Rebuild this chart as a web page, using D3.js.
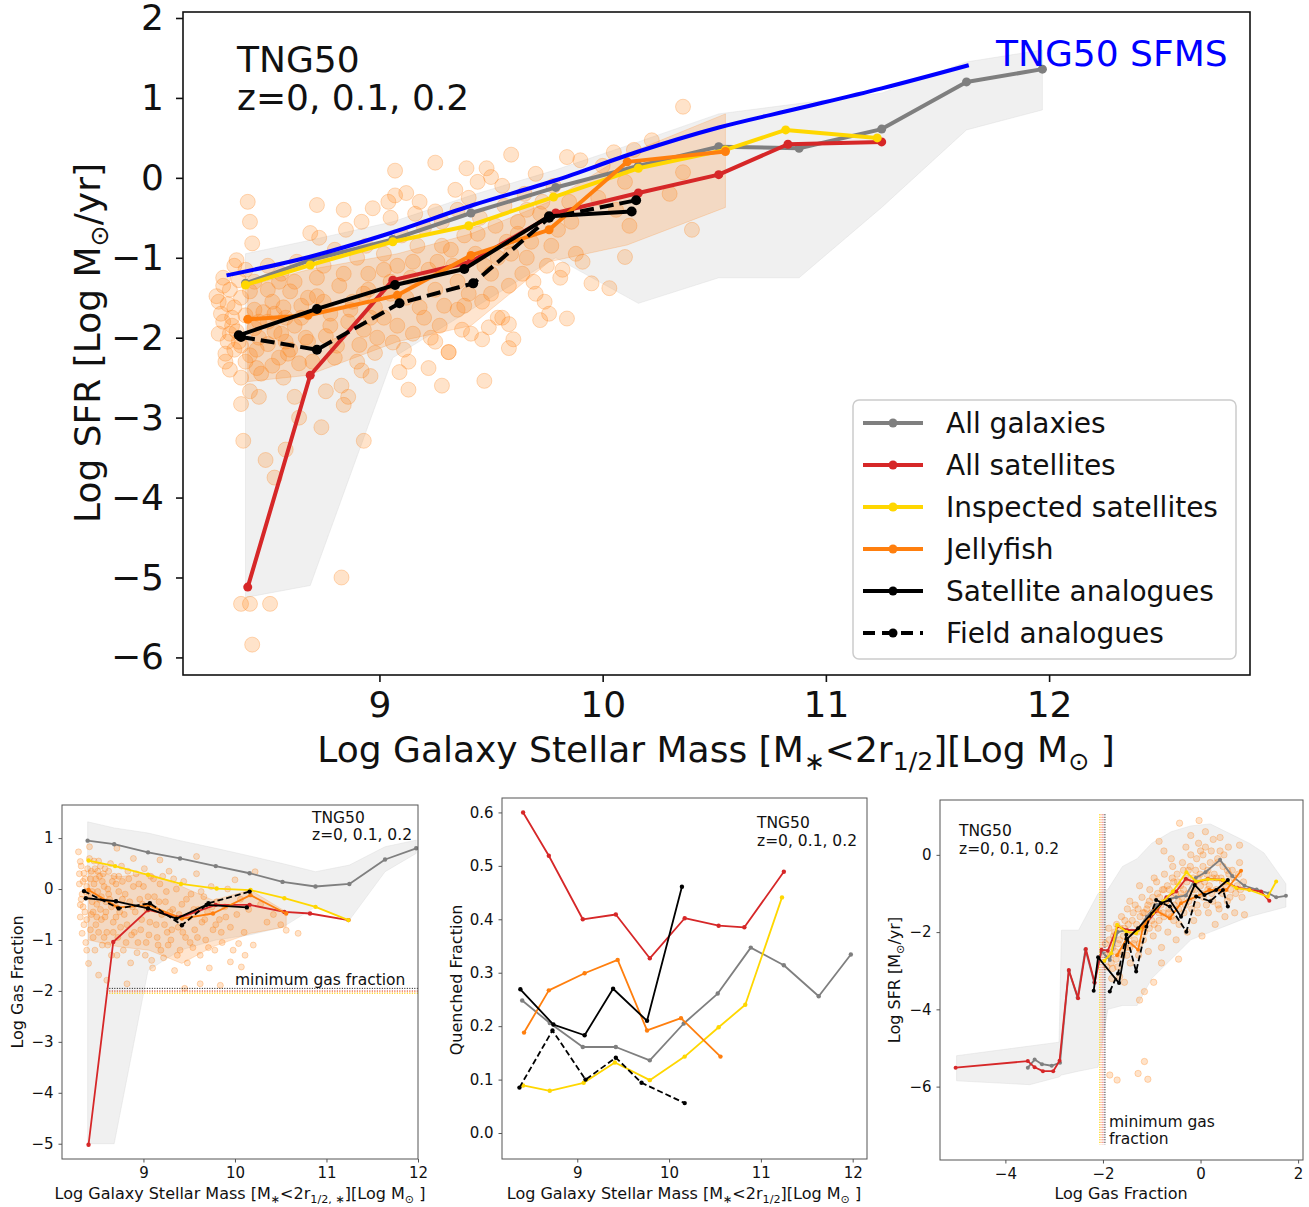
<!DOCTYPE html>
<html>
<head>
<meta charset="utf-8">
<script src="https://cdn.jsdelivr.net/npm/d3@7"></script>
<style>
  body { margin: 0; background: #fff; }
  svg { font-family: "DejaVu Sans", sans-serif; }
</style>
</head>
<body>
<svg id="fig" width="1309" height="1207"></svg>
<script>
// ---------- main panel: Log SFR vs Log stellar mass ----------
const mAll = [8.40, 8.69, 9.06, 9.41, 9.79, 10.16, 10.52, 10.88, 11.25, 11.63, 11.97];
const sfrAll = [-1.32, -1.03, -0.77, -0.44, -0.12, 0.15, 0.39, 0.37, 0.61, 1.20, 1.36];
const sfrAllHi = [-0.95, -0.78, -0.55, -0.22, 0.10, 0.45, 0.80, 0.93, 1.06, 1.45, 1.60];
const sfrAllLo = [-5.25, -5.10, -2.25, -1.65, -1.00, -1.57, -1.25, -1.25, -0.37, 0.60, 0.85];
const mSat = [8.41, 8.69, 9.06, 9.41, 9.79, 10.16, 10.52, 10.83, 11.25];
const sfrSat = [-5.12, -2.47, -1.28, -1.05, -0.44, -0.19, 0.04, 0.42, 0.45];
const mInsp = [8.40, 8.69, 9.06, 9.40, 9.78, 10.16, 10.55, 10.82, 11.23];
const sfrInsp = [-1.34, -1.09, -0.80, -0.60, -0.24, 0.12, 0.35, 0.60, 0.50];
const mJelly = [8.41, 8.68, 9.08, 9.41, 9.76, 10.11, 10.55];
const sfrJelly = [-1.77, -1.72, -1.47, -0.97, -0.65, 0.20, 0.33];
const sfrJellyHi = [-1.35, -1.15, -0.95, -0.70, -0.30, 0.30, 0.80];
const sfrJellyLo = [-2.55, -2.47, -2.05, -1.85, -1.05, -0.84, -0.37];
const mSatAn = [8.37, 8.72, 9.07, 9.38, 9.76, 10.13];
const sfrSatAn = [-1.97, -1.64, -1.34, -1.14, -0.48, -0.42];
const mField = [8.38, 8.72, 9.09, 9.42, 9.76, 10.15];
const sfrField = [-1.99, -2.15, -1.57, -1.32, -0.50, -0.28];
const mSfms = [8.315, 8.685, 9.05, 9.42, 9.79, 10.15, 10.52, 10.88, 11.25, 11.64];
const sfrSfms = [-1.22, -0.99, -0.69, -0.34, -0.03, 0.32, 0.63, 0.87, 1.12, 1.41];
// jellyfish galaxies (mass, SFR)
const jellyPts = [
  [8.41,-0.30],[8.42,-0.55],[8.43,-0.82],[8.36,-1.03],[8.30,-1.25],[8.33,-1.40],[8.38,-1.50],[8.28,-1.55],
  [8.35,-1.62],[8.40,-1.72],[8.30,-1.80],[8.44,-1.88],[8.33,-1.95],[8.37,-2.05],[8.35,-2.15],[8.42,-2.22],
  [8.31,-2.30],[8.45,-2.38],[8.38,-2.50],[8.42,-2.67],[8.38,-2.83],[8.39,-3.29],[8.38,-5.33],[8.42,-5.33],
  [8.43,-5.84],[8.27,-1.48],[8.29,-1.70],[8.32,-2.05],[8.44,-1.30],[8.46,-2.00],[8.40,-1.15],[8.34,-1.85],
  [8.50,-1.10],[8.55,-1.30],[8.60,-1.42],[8.52,-1.55],[8.65,-1.60],[8.48,-1.68],[8.58,-1.75],[8.62,-1.85],
  [8.53,-1.92],[8.67,-2.00],[8.50,-2.08],[8.60,-2.15],[8.55,-2.25],[8.64,-2.32],[8.47,-2.45],[8.46,-2.74],
  [8.62,-2.74],[8.64,-3.00],[8.58,-3.40],[8.49,-3.53],[8.53,-3.75],[8.51,-5.33],[8.56,-1.20],[8.68,-1.50],
  [8.69,-0.69],[8.58,-2.05],[8.50,-1.80],[8.57,-1.62],
  [8.72,-0.34],[8.84,-0.40],[8.97,-0.38],[8.92,-0.55],[8.80,-0.90],[8.90,-1.00],[8.75,-1.10],[8.95,-1.20],
  [8.82,-1.35],[8.72,-1.48],[8.88,-1.55],[8.98,-1.62],[8.78,-1.70],[8.86,-1.80],[8.93,-1.90],[8.76,-1.98],
  [8.91,-2.09],[8.98,-2.19],[8.92,-2.41],[8.96,-2.48],[8.83,-2.60],[8.76,-2.67],[8.86,-2.74],[8.84,-2.84],
  [8.74,-3.12],[8.93,-3.29],[8.83,-5.00],[8.80,-2.25],[8.70,-2.30],[8.95,-1.40],
  [9.07,0.09],[9.12,-0.19],[9.07,-0.22],[9.18,-0.30],[9.25,-0.42],[9.05,-0.50],[9.20,-0.62],[9.10,-0.72],
  [9.28,-0.85],[9.02,-0.95],[9.15,-1.05],[9.22,-1.15],[9.05,-1.30],[9.25,-1.40],[9.12,-1.50],[9.18,-1.62],
  [9.02,-1.75],[9.27,-1.85],[9.06,-2.06],[9.31,-2.18],[9.22,-2.38],[9.09,-2.43],[9.13,-2.65],[9.28,-2.60],
  [9.15,-1.95],[9.08,-1.10],[9.25,-2.05],[9.13,-2.30],
  [9.59,0.29],[9.25,0.19],[9.39,0.12],[9.48,0.12],[9.50,0.01],[9.55,-0.10],[9.40,-0.25],[9.35,-0.40],
  [9.45,-0.50],[9.52,-0.60],[9.38,-0.72],[9.57,-0.80],[9.43,-0.95],[9.33,-1.10],[9.50,-1.20],[9.58,-1.35],
  [9.40,-1.45],[9.46,-1.55],[9.35,-1.65],[9.55,-1.75],[9.58,-1.83],[9.49,-1.87],[9.46,-2.02],[9.60,-2.02],
  [9.58,-2.13],[9.31,-2.18],[9.47,-2.54],[9.53,-1.00],[9.37,-1.90],
  [9.84,0.26],[9.90,0.22],[9.70,0.05],[9.78,-0.10],[9.65,-0.20],[9.85,-0.30],[9.72,-0.45],[9.62,-0.55],
  [9.80,-0.65],[9.68,-0.80],[9.88,-0.95],[9.75,-1.10],[9.64,-1.20],[9.95,-1.32],[9.70,-1.45],[9.76,-1.70],
  [9.84,-1.76],[9.72,-1.78],[9.82,-1.15],
  [10.05,0.32],[10.14,0.35],[10.00,0.15],[10.10,-0.05],[9.98,-0.25],[10.06,-0.40],[10.12,-0.60],[10.10,-0.99],
  [10.03,-1.38],[10.22,0.47],[10.36,0.89],[10.36,0.07],[10.30,-0.20],[10.40,-0.65],
  [8.30,-1.35],[8.32,-1.58],[8.34,-1.75],[8.36,-1.92],[8.38,-2.10],[8.40,-2.30],[8.42,-1.42],[8.44,-1.65],
  [8.46,-1.80],[8.28,-1.95],[8.31,-2.20],[8.33,-2.40],[8.35,-1.10],[8.37,-1.28],[8.45,-2.15],
  [8.50,-1.40],[8.53,-1.70],[8.56,-1.95],[8.59,-2.20],[8.62,-1.30],[8.65,-1.75],[8.68,-2.05],[8.52,-2.35],
  [8.57,-2.50],[8.63,-1.05],
  [8.72,-1.25],[8.75,-1.55],[8.78,-1.85],[8.81,-2.10],[8.84,-1.20],[8.87,-1.65],[8.90,-2.30],[8.93,-1.45],
  [8.96,-1.75],[8.99,-2.00],[8.73,-0.75],[8.85,-0.65],[8.94,-0.85],
  [9.02,-1.15],[9.05,-1.45],[9.08,-1.85],[9.11,-2.15],[9.14,-1.25],[9.17,-0.85],[9.20,-1.75],[9.23,-2.00],
  [9.26,-1.05],[9.29,-1.60],[9.04,-0.30],[9.16,-0.45],[9.28,-0.55],
  [9.32,-0.90],[9.35,-1.30],[9.38,-1.60],[9.41,-1.95],[9.44,-0.70],[9.47,-1.10],[9.50,-1.45],[9.53,-1.75],
  [9.56,-0.35],[9.59,-0.95],[9.34,-0.15],[9.44,-0.05],
  [9.62,-0.70],[9.66,-1.00],[9.69,-1.30],[9.73,-0.30],[9.77,-0.85],[9.81,-1.25],[9.86,-0.55],[9.91,-1.05],
  [9.66,-0.40],[9.74,-1.55]
];

// ---------- lower left: Log gas fraction vs mass ----------
const gmAll = [8.39, 8.68, 9.05, 9.40, 9.79, 10.16, 10.52, 10.88, 11.25, 11.64, 11.98];
const gasAll = [0.95, 0.88, 0.72, 0.60, 0.45, 0.31, 0.14, 0.05, 0.10, 0.58, 0.80];
const gasAllHi = [1.32, 1.20, 1.10, 0.95, 0.80, 0.65, 0.50, 0.34, 0.47, 0.83, 0.96];
const gasAllLo = [-5.00, -5.00, -1.60, -1.20, -1.00, -0.90, -0.75, -0.35, -0.61, 0.34, 0.70];
const gmSat = [8.40, 8.67, 9.05, 9.41, 9.79, 10.16, 10.54, 10.82, 11.24];
const gasSat = [-5.02, -1.04, -0.41, -0.55, -0.31, -0.31, -0.45, -0.48, -0.61];
const gmInsp = [8.40, 8.69, 9.05, 9.41, 9.80, 10.17, 10.54, 10.88, 11.24];
const gasInsp = [0.56, 0.45, 0.28, 0.10, 0.01, -0.02, -0.18, -0.35, -0.61];
const gmJelly = [8.40, 8.72, 9.06, 9.42, 9.76, 10.17, 10.56];
const gasJelly = [-0.02, -0.36, -0.32, -0.58, -0.48, -0.12, -0.48];
const gasJellyHi = [0.37, 0.24, 0.31, 0.05, -0.22, -0.02, -0.45];
const gasJellyLo = [-1.00, -1.13, -1.20, -1.46, -1.13, -0.87, -0.74];
const gmSatAn = [8.37, 8.70, 9.05, 9.36, 9.69, 10.13];
const gasSatAn = [-0.18, -0.24, -0.38, -0.58, -0.31, -0.36];
const gmField = [8.35, 8.73, 9.07, 9.42, 9.71, 10.16];
const gasField = [-0.04, -0.38, -0.28, -0.71, -0.28, -0.05];
const minGas = [-1.95, -2.00, -2.02, -2.05];   // black, red, orange, yellow
const gasPts = [
  [8.29,0.73],[8.41,0.83],[8.71,0.80],[8.89,0.60],[9.18,0.57],[9.58,0.64],[10.00,0.18],[10.22,0.34],
  [10.56,-0.81],[10.69,-0.87],[10.04,-1.07],[10.11,-1.30],[9.95,-1.43],[10.07,-1.53],[9.84,-1.89],[9.62,-1.86],
  [9.45,-1.95],[8.82,-1.86],[8.60,-1.79],[8.51,-1.69],[8.40,-1.46],[8.38,-1.20],[8.33,-0.87],[8.31,-0.31],
  [8.31,0.54],[8.35,0.31],[8.30,0.10],[8.33,-0.10],[8.36,-0.45],[8.38,-0.60],[8.42,0.20],[8.44,-0.25],
  [8.45,-0.95],[8.47,0.40],[8.48,-0.70],[8.50,-0.05],[8.52,0.25],[8.53,-0.40],[8.55,-1.10],[8.57,0.05],
  [8.58,-0.55],[8.60,-0.85],[8.62,0.35],[8.63,-0.20],[8.65,-1.30],[8.67,-0.65],[8.70,0.10],[8.72,-0.95],
  [8.74,-0.45],[8.76,0.45],[8.78,-1.20],[8.80,-0.10],[8.82,-0.70],[8.84,0.20],[8.86,-1.45],[8.88,-0.35],
  [8.90,-0.85],[8.92,0.30],[8.94,-1.05],[8.96,-0.20],[8.98,-0.60],[9.00,0.05],[9.02,-1.30],[9.04,-0.40],
  [9.06,-0.90],[9.08,0.25],[9.10,-1.55],[9.12,-0.15],[9.14,-0.70],[9.16,-1.10],[9.18,0.10],[9.20,-0.50],
  [9.22,-1.35],[9.24,-0.25],[9.26,-0.85],[9.28,0.35],[9.30,-1.00],[9.32,-0.40],[9.34,-1.60],[9.36,0.00],
  [9.38,-0.75],[9.40,-1.20],[9.42,-0.30],[9.44,0.15],[9.46,-0.95],[9.48,-1.45],[9.50,-0.55],[9.52,-0.10],
  [9.54,-1.15],[9.56,-0.80],[9.58,0.30],[9.60,-0.40],[9.62,-1.30],[9.64,-0.65],[9.66,-0.15],[9.68,-1.00],
  [9.70,-0.45],[9.72,-1.55],[9.74,0.05],[9.76,-0.80],[9.78,-1.20],[9.80,-0.25],[9.83,-0.60],[9.86,-1.05],
  [9.89,-0.35],[9.92,0.00],[9.95,-0.75],[9.98,-1.20],[10.02,-0.50],[10.06,-0.20],[10.10,-0.85],[10.15,-0.40],
  [10.20,-1.10],[10.28,-0.30],[10.35,-0.65],[10.42,-0.50],[10.50,-0.70],
  [8.32,-0.20],[8.34,0.15],[8.37,-0.05],[8.39,0.40],[8.43,-0.50],[8.46,0.10],[8.49,-0.30],[8.51,0.55],
  [8.54,-0.15],[8.56,0.30],[8.59,-0.25],[8.61,0.00],[8.66,0.15],[8.69,-0.30],[8.73,0.25],[8.77,-0.20],
  [8.30,0.30],[8.31,-0.55],[8.32,0.45],[8.34,-0.35],[8.35,-0.70],[8.36,0.20],[8.37,-1.05],[8.38,0.05],
  [8.40,-0.15],[8.41,0.60],[8.42,-0.80],[8.43,0.35],[8.44,-0.05],[8.45,-0.45],[8.46,0.55],[8.47,-1.20],
  [8.48,0.20],[8.49,-0.55],[8.50,0.35],[8.51,-0.85],[8.52,-0.20],[8.53,0.45],[8.54,-0.60],[8.55,0.15],
  [8.57,-0.95],[8.58,0.40],[8.59,-0.45],[8.61,-1.10],[8.62,-0.10],[8.64,0.50],[8.65,-0.35],[8.67,-0.85],
  [8.68,0.25],[8.70,-0.55],[8.71,-1.30],[8.73,-0.05],[8.75,-0.75],[8.77,0.15],[8.79,-0.50],[8.81,-1.05],
  [8.83,0.35],[8.85,-0.25],[8.87,-0.90],[8.89,0.05],[8.91,-0.45],[8.93,-1.25],[8.95,0.10],[8.97,-0.80],
  [8.99,-0.30],[9.01,0.40],[9.03,-1.05],[9.05,-0.15],[9.07,-0.65],[9.09,-1.40],[9.11,0.20],[9.13,-0.40],
  [9.15,-0.95],[9.17,-0.25],[9.19,-1.20],[9.21,0.25],[9.23,-0.70],[9.25,-0.05],[9.27,-1.10],[9.29,-0.45],
  [9.31,-0.80],[9.33,0.20],[9.37,-1.30],[9.39,-0.50],[9.43,-0.85],[9.47,-0.20],[9.51,-1.05],[9.55,-0.40],
  [9.59,-0.95],[9.63,-0.05],[9.67,-0.60],[9.71,-1.15],[9.75,-0.35],[9.79,-0.70],[9.85,-0.85],[9.90,-0.55]
];

// ---------- lower middle: quenched fraction vs mass ----------
const qmAll = [8.40, 8.70, 9.06, 9.42, 9.79, 10.16, 10.53, 10.89, 11.25, 11.63, 11.98];
const qAll = [0.248, 0.206, 0.161, 0.161, 0.136, 0.205, 0.261, 0.347, 0.314, 0.256, 0.334];
const qmSat = [8.41, 8.69, 9.06, 9.42, 9.79, 10.17, 10.54, 10.82, 11.25];
const qSat = [0.600, 0.519, 0.400, 0.409, 0.327, 0.402, 0.388, 0.385, 0.489];
const qmInsp = [8.41, 8.70, 9.07, 9.41, 9.79, 10.17, 10.54, 10.83, 11.23];
const qInsp = [0.089, 0.079, 0.094, 0.132, 0.099, 0.143, 0.198, 0.240, 0.441];
const qmJelly = [8.42, 8.69, 9.08, 9.44, 9.76, 10.13, 10.56];
const qJelly = [0.188, 0.267, 0.299, 0.324, 0.192, 0.215, 0.143];
const qmSatAn = [8.38, 8.74, 9.08, 9.39, 9.76, 10.14];
const qSatAn = [0.269, 0.203, 0.183, 0.270, 0.210, 0.461];
const qmField = [8.37, 8.73, 9.09, 9.42, 9.70, 10.17];
const qField = [0.085, 0.192, 0.100, 0.141, 0.094, 0.056];

// ---------- lower right: Log SFR vs Log gas fraction ----------
const fgAll = [-3.54, -3.40, -3.25, -3.05, -2.88, -2.70, -2.52, -2.36, -2.18, -2.03, -1.86, -1.70, -1.52, -1.30,
  -1.10, -0.90, -0.70, -0.50, -0.30, -0.10, 0.10, 0.40, 0.65, 0.90, 1.15, 1.40, 1.55, 1.75];
const fsAll = [-5.51, -5.30, -5.42, -5.46, -5.38, -3.00, -3.70, -2.45, -3.30, -2.50, -2.72, -2.00, -1.95, -1.95,
  -1.60, -1.30, -1.15, -1.10, -1.05, -0.60, -0.45, -0.13, -0.55, -0.80, -0.90, -1.00, -1.10, -1.06];
const fbX = [-5.0, -3.5, -2.9, -2.85, -2.5, -2.1, -1.9, -1.6, -1.3, -1.0, -0.6, -0.2, 0.2, 0.6, 1.0, 1.3, 1.75];
const fbHi = [-5.20, -4.95, -4.85, -1.95, -1.95, -1.00, -0.90, -0.30, -0.10, 0.30, 0.60, 0.75, 0.80, 0.55, 0.30, 0.05, -0.75];
const fbLo = [-5.85, -5.95, -5.75, -5.70, -5.60, -5.50, -4.00, -3.90, -3.90, -3.20, -2.70, -2.20, -2.00, -1.80, -1.60, -1.50, -1.35];
const fgSat = [-5.02, -3.54, -3.40, -3.23, -3.02, -2.89, -2.70, -2.51, -2.35, -2.17, -2.03, -1.90, -1.70, -1.50,
  -1.30, -1.10, -0.90, -0.70, -0.50, -0.30, -0.10, 0.15, 0.45, 0.75, 1.00, 1.24, 1.41];
const fsSat = [-5.51, -5.34, -5.50, -5.60, -5.60, -5.33, -2.98, -3.71, -2.44, -3.31, -2.46, -2.48, -1.85, -1.95,
  -1.95, -1.75, -1.45, -1.10, -0.95, -0.62, -0.72, -0.62, -0.65, -0.85, -0.90, -0.95, -1.19];
const fgInsp = [-1.97, -1.83, -1.71, -1.52, -1.32, -1.18, -0.98, -0.77, -0.57, -0.29, -0.09, 0.15, 0.46, 0.73, 1.00, 1.38, 1.55];
const fsInsp = [-2.74, -2.55, -1.81, -1.99, -2.03, -1.86, -1.51, -1.21, -0.95, -0.45, -0.69, -0.63, -0.65, -0.86, -0.91, -1.08, -0.69];
const fgJelly = [-1.71, -1.52, -1.28, -1.18, -0.94, -0.63, -0.40, -0.09, 0.18, 0.53, 0.83];
const fsJelly = [-2.60, -2.18, -2.46, -1.87, -1.42, -1.64, -1.25, -1.08, -0.91, -0.91, -0.41];
const fgSatAn = [-2.19, -2.10, -1.67, -1.51, -1.28, -0.81, -0.63, -0.40, -0.12, 0.08, 0.32, 0.56];
const fsSatAn = [-3.52, -2.65, -3.32, -2.18, -1.90, -1.25, -1.17, -1.60, -0.78, -1.04, -0.91, -0.65];
const fgField = [-1.86, -1.69, -1.52, -1.32, -1.11, -0.91, -0.63, -0.29, -0.09, 0.20, 0.46, 0.56];
const fsField = [-3.54, -3.07, -2.07, -3.02, -1.86, -1.17, -1.34, -1.99, -1.08, -1.20, -0.91, -1.34];
const minGasX = [-2.07, -2.04, -2.00, -1.96];   // yellow, orange, red, black
const fracPts = [
  [-1.95,-2.3],[-1.92,-2.9],[-1.88,-1.9],[-1.85,-2.6],[-1.82,-3.2],[-1.78,-2.1],[-1.75,-2.5],[-1.72,-1.8],
  [-1.70,-2.9],[-1.66,-2.2],[-1.62,-1.6],[-1.60,-2.6],[-1.56,-1.9],[-1.53,-2.4],[-1.50,-1.4],[-1.47,-2.1],
  [-1.44,-2.8],[-1.40,-1.7],[-1.37,-2.3],[-1.34,-1.3],[-1.30,-2.0],[-1.27,-2.6],[-1.24,-1.6],[-1.20,-1.1],
  [-1.17,-2.2],[-1.14,-1.8],[-1.10,-1.4],[-1.07,-2.5],[-1.04,-0.9],[-1.00,-1.7],[-0.97,-2.1],[-0.94,-1.3],
  [-0.90,-0.7],[-0.87,-1.9],[-0.84,-1.1],[-0.80,-2.4],[-0.77,-1.5],[-0.74,-0.5],[-0.70,-1.2],[-0.67,-2.0],
  [-0.64,-0.9],[-0.60,-1.6],[-0.57,-0.3],[-0.54,-1.3],[-0.50,-2.2],[-0.47,-0.7],[-0.44,-1.8],[-0.40,-1.0],
  [-0.37,-0.2],[-0.34,-1.5],[-0.30,-0.6],[-0.27,-2.0],[-0.24,-1.2],[-0.20,0.0],[-0.17,-0.9],[-0.14,-1.7],
  [-0.10,-0.4],[-0.07,-1.3],[-0.04,0.3],[0.00,-0.8],[0.03,-2.1],[0.06,-1.1],[0.10,0.2],[0.13,-0.5],
  [0.16,-1.5],[0.20,-0.2],[0.23,-1.0],[0.26,0.4],[0.30,-1.8],[0.33,-0.6],[0.36,-1.3],[0.40,0.1],
  [0.43,-0.9],[0.46,-0.3],[0.50,-1.6],[0.53,-0.7],[0.57,0.2],[0.60,-1.1],[0.65,-0.4],[0.70,-1.5],
  [0.75,-0.8],[0.80,-0.2],[0.85,-1.1],[0.90,-1.55],
  [-1.45,-1.2],[-1.25,-0.8],[-1.15,-1.5],[-1.05,-1.2],[-0.95,-0.6],[-0.85,-1.5],[-0.75,-0.9],[-0.65,-1.4],
  [-0.55,-0.7],[-0.45,-1.2],[-0.35,-0.9],[-0.25,-0.4],[-0.15,-1.1],[-0.05,-0.6],[0.05,-0.3],[0.15,-0.9],
  [0.25,-0.6],[0.35,-0.1],[0.45,-0.7],[0.55,-0.4],[-0.6,-0.1],[-0.3,0.2],[0.0,0.1],
  [-0.43,0.82],[-0.03,0.89],[-0.85,0.35],[-0.75,0.10],[-0.20,0.50],[0.10,0.60],[0.40,0.45],[0.80,0.25],
  [-1.86,-5.70],[-1.71,-5.83],[-1.28,-5.66],[-1.15,-5.35],[-1.08,-5.81],[-1.25,-3.76],[-1.15,-3.54],
  [-0.96,-3.30],[-1.80,-2.94],[-1.66,-3.15],[-1.56,-3.30],[-0.45,-2.7],[-0.80,-2.8],
  [-1.90,-2.6],[-1.87,-2.2],[-1.83,-2.8],[-1.80,-2.4],[-1.76,-2.0],[-1.73,-2.7],[-1.69,-2.3],[-1.65,-1.9],
  [-1.62,-2.5],[-1.58,-2.1],[-1.55,-1.7],[-1.51,-2.6],[-1.48,-1.8],[-1.45,-2.4],[-1.41,-2.0],[-1.38,-1.5],
  [-1.35,-2.2],[-1.31,-1.8],[-1.28,-1.4],[-1.25,-2.3],[-1.21,-1.9],[-1.18,-1.5],[-1.15,-2.0],[-1.11,-1.7],
  [-1.08,-1.3],[-1.05,-1.9],[-1.01,-1.5],[-0.98,-1.1],[-0.95,-1.8],[-0.91,-1.4],[-0.88,-1.0],[-0.85,-1.7],
  [-0.81,-1.3],[-0.78,-0.9],[-0.75,-1.6],[-0.71,-1.2],[-0.68,-0.8],[-0.65,-1.5],[-0.61,-1.1],[-0.58,-0.6],
  [-0.55,-1.7],[-0.51,-1.0],[-0.48,-0.5],[-0.45,-1.4],[-0.41,-0.8],[-0.38,-1.1],[-0.35,-0.4],[-0.31,-1.3],
  [-0.28,-0.7],[-0.25,-1.0],[-0.21,-0.3],[-0.18,-1.4],[-0.15,-0.6],[-0.11,-0.9],[-0.08,-0.1],[-0.05,-1.5],
  [-0.01,-0.5],[0.02,-1.0],[0.05,0.0],[0.08,-0.7],[0.12,-1.3],[0.15,-0.4],[0.18,-0.8],[0.22,0.1],
  [0.25,-1.2],[0.28,-0.5],[0.32,-0.9],[0.35,-0.2],[0.38,-1.4],[0.42,-0.6],[0.45,-1.0],[0.48,0.0],
  [0.52,-0.8],[0.55,-1.2],[0.58,-0.5],[0.62,-0.9],[0.68,-0.6],[0.72,-1.0],[0.78,-0.5],[0.82,-0.9],[0.88,-0.7]
];

const cGray = '#7f7f7f', cRed = '#d62728', cGold = '#ffd700', cOrange = '#ff7f0e';

const svg = d3.select('#fig');
const zip = (a, b) => a.map((v, i) => [v, b[i]]);

// builds a panel: scales, clip and frame
function makePanel(id, box, xd, yd) {
  const x = d3.scaleLinear().domain(xd).range([box.l, box.r]);
  const y = d3.scaleLinear().domain(yd).range([box.b, box.t]);
  svg.append('clipPath').attr('id', id)
    .append('rect').attr('x', box.l).attr('y', box.t).attr('width', box.r - box.l).attr('height', box.b - box.t);
  const g = svg.append('g').attr('clip-path', `url(#${id})`);
  return {x, y, g, box};
}

function band(p, xs, lo, hi, color, op) {
  const area = d3.area().x(d => p.x(d[0])).y0(d => p.y(d[1])).y1(d => p.y(d[2]));
  p.g.append('path')
    .datum(xs.map((v, i) => [v, lo[i], hi[i]]))
    .attr('d', area)
    .attr('fill', color).attr('fill-opacity', op)
    .attr('stroke', color).attr('stroke-opacity', op).attr('stroke-width', 1);
}

function series(p, xs, ys, color, lw, r, dash) {
  const pts = zip(xs, ys);
  p.g.append('path').datum(pts)
    .attr('d', d3.line().x(d => p.x(d[0])).y(d => p.y(d[1])))
    .attr('fill', 'none').attr('stroke', color).attr('stroke-width', lw)
    .attr('stroke-linejoin', 'round')
    .attr('stroke-dasharray', dash || null);
  p.g.selectAll(null).data(pts).enter().append('circle')
    .attr('cx', d => p.x(d[0])).attr('cy', d => p.y(d[1])).attr('r', r)
    .attr('fill', color);
}

function scatter(p, pts, r) {
  p.g.selectAll(null).data(pts).enter().append('circle')
    .attr('cx', d => p.x(d[0])).attr('cy', d => p.y(d[1])).attr('r', r)
    .attr('fill', cOrange).attr('fill-opacity', 0.22)
    .attr('stroke', cOrange).attr('stroke-opacity', 0.28).attr('stroke-width', 1);
}

function axes(p, o) {
  const b = p.box;
  const ax = svg.append('g').attr('transform', `translate(0,${b.b})`)
    .call(d3.axisBottom(p.x).tickValues(o.xt).tickSize(o.ts).tickPadding(o.xp).tickFormat(o.xf));
  const ay = svg.append('g').attr('transform', `translate(${b.l},0)`)
    .call(d3.axisLeft(p.y).tickValues(o.yt).tickSize(o.ts).tickPadding(o.yp).tickFormat(o.yf));
  [ax, ay].forEach(a => {
    a.select('.domain').remove();
    a.attr('font-family', '"DejaVu Sans", sans-serif').attr('font-size', o.fs);
    a.selectAll('line').attr('stroke', o.frame).attr('stroke-width', o.fw);
    a.selectAll('text').attr('fill', '#111');
  });
  svg.append('rect').attr('x', b.l).attr('y', b.t).attr('width', b.r - b.l).attr('height', b.b - b.t)
    .attr('fill', 'none').attr('stroke', o.frame).attr('stroke-width', o.fw);
}

// text with mathtext-like subscripts: parts = [[str, isSub], ...]
function rich(x, y, parts, size, rotate, anchor) {
  const t = svg.append('text')
    .attr('transform', `translate(${x},${y})` + (rotate ? ' rotate(-90)' : ''))
    .attr('text-anchor', anchor || 'middle').attr('font-size', size).attr('fill', '#111');
  let down = false;
  parts.forEach(([s, sub]) => {
    const ts = t.append('tspan').text(s);
    if (sub && !down) { ts.attr('dy', size * 0.22).attr('font-size', size * 0.7); down = true; }
    else if (sub) { ts.attr('font-size', size * 0.7); }
    else if (down) { ts.attr('dy', -size * 0.22); down = false; }
  });
  return t;
}

function label(x, y, s, size, color, anchor) {
  return svg.append('text').attr('x', x).attr('y', y).attr('font-size', size)
    .attr('fill', color || '#111').attr('text-anchor', anchor || 'start').text(s);
}

const fmtInt = d3.format('d');

// ===== main panel =====
const pm = makePanel('clipMain', {l: 183, r: 1250, t: 12, b: 675}, [8.12, 12.9], [-6.22, 2.075]);
band(pm, mAll, sfrAllLo, sfrAllHi, '#d3d3d3', 0.35);
band(pm, mJelly, sfrJellyLo, sfrJellyHi, cOrange, 0.2);
scatter(pm, jellyPts, 7.5);
series(pm, mAll, sfrAll, cGray, 4, 4.5);
series(pm, mSat, sfrSat, cRed, 4, 4.5);
series(pm, mInsp, sfrInsp, cGold, 4, 4.5);
series(pm, mJelly, sfrJelly, cOrange, 4, 4.5);
series(pm, mSatAn, sfrSatAn, '#000', 4, 5);
series(pm, mField, sfrField, '#000', 4, 5, '14,6');
pm.g.append('path').datum(zip(mSfms, sfrSfms))
  .attr('d', d3.line().x(d => pm.x(d[0])).y(d => pm.y(d[1])).curve(d3.curveMonotoneX))
  .attr('fill', 'none').attr('stroke', '#0000ff').attr('stroke-width', 4);
axes(pm, {xt: [9, 10, 11, 12], yt: d3.range(-6, 3), ts: 7, xp: 9, yp: 12, fs: 36,
  xf: fmtInt, yf: fmtInt, frame: '#111', fw: 1.6});
label(237, 72, 'TNG50', 36);
label(237, 110, 'z=0, 0.1, 0.2', 36);
label(996, 66, 'TNG50 SFMS', 36, '#0000ff');
rich(716, 762, [['Log Galaxy Stellar Mass [M'], ['∗', 1], ['<2r'], ['1/2', 1], ['][Log M'], ['⊙', 1], [' ]']], 36);
rich(100, 343, [['Log SFR [Log M'], ['⊙', 1], ['/yr]']], 36, true);

// legend
const legItems = [
  {name: 'All galaxies', c: cGray},
  {name: 'All satellites', c: cRed},
  {name: 'Inspected satellites', c: cGold},
  {name: 'Jellyfish', c: cOrange},
  {name: 'Satellite analogues', c: '#000'},
  {name: 'Field analogues', c: '#000', dash: '12,7'}
];
const leg = svg.append('g');
leg.append('rect').attr('x', 853).attr('y', 400).attr('width', 383).attr('height', 259).attr('rx', 6)
  .attr('fill', '#fff').attr('fill-opacity', 0.85).attr('stroke', '#cccccc').attr('stroke-width', 1.5);
legItems.forEach((d, i) => {
  const yy = 423 + i * 42;
  leg.append('line').attr('x1', 863).attr('x2', 923).attr('y1', yy).attr('y2', yy)
    .attr('stroke', d.c).attr('stroke-width', 4).attr('stroke-dasharray', d.dash || null);
  leg.append('circle').attr('cx', 893).attr('cy', yy).attr('r', 4.5).attr('fill', d.c);
  leg.append('text').attr('x', 946).attr('y', yy + 10).attr('font-size', 28).attr('fill', '#111').text(d.name);
});

// ===== lower left =====
const pg = makePanel('clipGas', {l: 62, r: 418, t: 805, b: 1159}, [8.11, 12.0], [-5.3, 1.65]);
band(pg, gmAll, gasAllLo, gasAllHi, '#d3d3d3', 0.35);
band(pg, gmJelly, gasJellyLo, gasJellyHi, cOrange, 0.2);
scatter(pg, gasPts, 3);
[['#000', minGas[0]], [cRed, minGas[1]], [cOrange, minGas[2]], [cGold, minGas[3]]].forEach(([c, v]) => {
  pg.g.append('line').attr('x1', pg.x(8.6)).attr('x2', pg.x(12)).attr('y1', pg.y(v)).attr('y2', pg.y(v))
    .attr('stroke', c).attr('stroke-width', 1).attr('stroke-dasharray', '1,1.5');
});
series(pg, gmAll, gasAll, cGray, 1.8, 2.2);
series(pg, gmSat, gasSat, cRed, 1.8, 2.2);
series(pg, gmInsp, gasInsp, cGold, 1.8, 2.2);
series(pg, gmJelly, gasJelly, cOrange, 1.8, 2.2);
series(pg, gmSatAn, gasSatAn, '#000', 1.8, 2.2);
series(pg, gmField, gasField, '#000', 1.8, 2.2, '6,3');
axes(pg, {xt: [9, 10, 11, 12], yt: d3.range(-5, 2), ts: 3.5, xp: 4.5, yp: 5, fs: 15,
  xf: fmtInt, yf: fmtInt, frame: '#555', fw: 1});
label(312, 823, 'TNG50', 15.5);
label(312, 840, 'z=0, 0.1, 0.2', 15.5);
label(235, 985, 'minimum gas fraction', 15.5);
rich(240, 1199, [['Log Galaxy Stellar Mass [M'], ['∗', 1], ['<2r'], ['1/2, ∗', 1], ['][Log M'], ['⊙', 1], [' ]']], 16);
rich(23, 982, [['Log Gas Fraction']], 16, true);

// ===== lower middle =====
const pq = makePanel('clipQ', {l: 502, r: 867, t: 798, b: 1159}, [8.18, 12.156], [-0.0486, 0.627]);
series(pq, qmSat, qSat, cRed, 1.8, 2.2);
series(pq, qmAll, qAll, cGray, 1.8, 2.2);
series(pq, qmInsp, qInsp, cGold, 1.8, 2.2);
series(pq, qmJelly, qJelly, cOrange, 1.8, 2.2);
series(pq, qmSatAn, qSatAn, '#000', 1.8, 2.2);
series(pq, qmField, qField, '#000', 1.8, 2.2, '6,3');
axes(pq, {xt: [9, 10, 11, 12], yt: [0, 0.1, 0.2, 0.3, 0.4, 0.5, 0.6], ts: 3.5, xp: 4.5, yp: 5, fs: 15,
  xf: fmtInt, yf: d3.format('.1f'), frame: '#555', fw: 1});
label(757, 828, 'TNG50', 15.5);
label(757, 846, 'z=0, 0.1, 0.2', 15.5);
rich(684, 1199, [['Log Galaxy Stellar Mass [M'], ['∗', 1], ['<2r'], ['1/2', 1], ['][Log M'], ['⊙', 1], [' ]']], 16);
rich(462, 980, [['Quenched Fraction']], 16, true);

// ===== lower right =====
const pf = makePanel('clipF', {l: 940, r: 1303, t: 800, b: 1160}, [-5.34, 2.1], [-7.9, 1.42]);
band(pf, fbX, fbLo, fbHi, '#d3d3d3', 0.35);
scatter(pf, fracPts, 3.2);
[[cGold, minGasX[0]], [cOrange, minGasX[1]], [cRed, minGasX[2]], ['#000', minGasX[3]]].forEach(([c, v]) => {
  pf.g.append('line').attr('x1', pf.x(v)).attr('x2', pf.x(v)).attr('y1', pf.y(1.05)).attr('y2', pf.y(-7.5))
    .attr('stroke', c).attr('stroke-width', 1).attr('stroke-dasharray', '1,1.5');
});
series(pf, fgAll, fsAll, cGray, 1.8, 2);
series(pf, fgSat, fsSat, cRed, 1.8, 2);
series(pf, fgInsp, fsInsp, cGold, 1.8, 2);
series(pf, fgJelly, fsJelly, cOrange, 1.8, 2);
series(pf, fgSatAn, fsSatAn, '#000', 1.8, 2);
series(pf, fgField, fsField, '#000', 1.8, 2, '6,3');
axes(pf, {xt: [-4, -2, 0, 2], yt: [-6, -4, -2, 0], ts: 3.5, xp: 4.5, yp: 5, fs: 15,
  xf: fmtInt, yf: fmtInt, frame: '#555', fw: 1});
label(959, 836, 'TNG50', 15.5);
label(959, 854, 'z=0, 0.1, 0.2', 15.5);
label(1109, 1127, 'minimum gas', 15.5);
label(1109, 1144, 'fraction', 15.5);
rich(1121, 1199, [['Log Gas Fraction']], 16);
rich(900, 980, [['Log SFR [M'], ['⊙', 1], ['/yr]']], 16, true);
</script>
</body>
</html>
